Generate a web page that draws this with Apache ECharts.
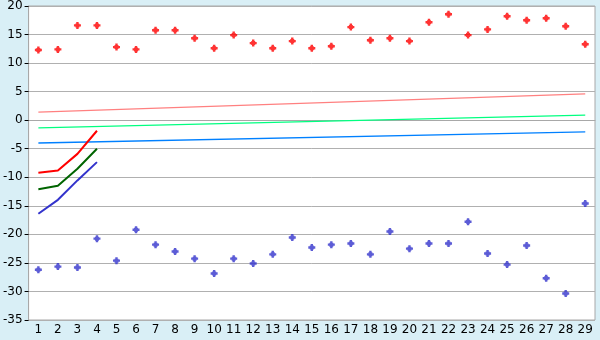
<!DOCTYPE html>
<html>
<head>
<meta charset="utf-8">
<script src="https://cdn.jsdelivr.net/npm/echarts@6/dist/echarts.min.js"></script>
<style>
html,body{margin:0;padding:0;background:#D9EFF6;}
#c{width:600px;height:340px;}
</style>
</head>
<body>
<div id="c"></div>
<script>
var categories = ['1','2','3','4','5','6','7','8','9','10','11','12','13','14','15','16','17','18','19','20','21','22','23','24','25','26','27','28','29'];
var highPoints = [12.3,12.4,16.6,16.6,12.8,12.4,15.75,15.75,14.35,12.6,14.9,13.5,12.6,13.85,12.6,12.95,16.3,14.0,14.35,13.85,17.15,18.55,14.9,15.9,18.2,17.5,17.85,16.45,13.3];
var lowPoints = [-26.2,-25.65,-25.8,-20.75,-24.6,-19.2,-21.8,-23.0,-24.25,-26.85,-24.25,-25.1,-23.5,-20.55,-22.3,-21.8,-21.6,-23.5,-19.5,-22.5,-21.6,-21.6,-17.8,-23.35,-25.3,-21.95,-27.7,-30.35,-14.6];
// trend lines: endpoint values at category 1 and category 29
var trendUpper = [1.4, 4.6];
var trendMiddle = [-1.35, 0.9];
var trendLower = [-4.0, -2.05];
// short curves over categories 1..4
var curveRed = [-9.2, -8.8, -5.9, -1.85];
var curveGreen = [-12.1, -11.5, -8.5, -5.0];
var curveBlue = [-16.4, -13.95, -10.55, -7.35];
var yTicks = {min: -35, max: 20, interval: 5};

function endpoints(pair){
  var arr = categories.map(function(){return null;});
  arr[0] = pair[0];
  arr[categories.length-1] = pair[1];
  return arr;
}
function curve(vals){
  var arr = categories.map(function(){return null;});
  for (var i=0;i<vals.length;i++) arr[i]=vals[i];
  return arr;
}
var plusPath = 'path://M2.3,0H4.7V1.5H5.5V2.3H7V4.7H5.5V5.5H4.7V7H2.3V5.5H1.5V4.7H0V2.3H1.5V1.5H2.3Z';

var chart = echarts.init(document.getElementById('c'), null, {renderer:'canvas'});
chart.setOption({
  backgroundColor: '#D9EFF6',
  animation: false,
  grid: {left: 26, top: 5, right: 5, bottom: 20, show: true, backgroundColor: '#FFFFFF', borderColor: '#A8A8A8', borderWidth: 1},
  xAxis: {
    type: 'category', data: categories, boundaryGap: true,
    axisLine: {lineStyle: {color: '#A8A8A8', width: 1}},
    axisTick: {alignWithLabel: true, length: 5, lineStyle: {color: '#000'}},
    axisLabel: {color: '#000', fontFamily: 'DejaVu Sans', fontSize: 12, margin: 4, interval: 0},
    splitLine: {show: false}
  },
  yAxis: {
    type: 'value', min: yTicks.min, max: yTicks.max, interval: yTicks.interval,
    axisLine: {show: true, lineStyle: {color: '#A8A8A8', width: 1}},
    axisTick: {show: true, length: 4, lineStyle: {color: '#000'}},
    axisLabel: {color: '#000', fontFamily: 'DejaVu Sans', fontSize: 12, margin: 6},
    splitLine: {lineStyle: {color: '#B0B0B0', width: 1}}
  },
  series: [
    {type:'line', data: endpoints(trendUpper), connectNulls:true, showSymbol:false, lineStyle:{color:'#FF8080', width:1.3}},
    {type:'line', data: endpoints(trendMiddle), connectNulls:true, showSymbol:false, lineStyle:{color:'#00FF80', width:1.3}},
    {type:'line', data: endpoints(trendLower), connectNulls:true, showSymbol:false, lineStyle:{color:'#0080FF', width:1.3}},
    {type:'line', data: curve(curveRed), showSymbol:false, lineStyle:{color:'#FF0000', width:2}},
    {type:'line', data: curve(curveGreen), showSymbol:false, lineStyle:{color:'#006400', width:2}},
    {type:'line', data: curve(curveBlue), showSymbol:false, lineStyle:{color:'#3333CC', width:2}},
    {type:'scatter', data: highPoints, symbol: plusPath, symbolSize: 7, itemStyle:{color:'#FF0000'}},
    {type:'scatter', data: lowPoints, symbol: plusPath, symbolSize: 7, itemStyle:{color:'#3333CC'}}
  ]
});
</script>
</body>
</html>
